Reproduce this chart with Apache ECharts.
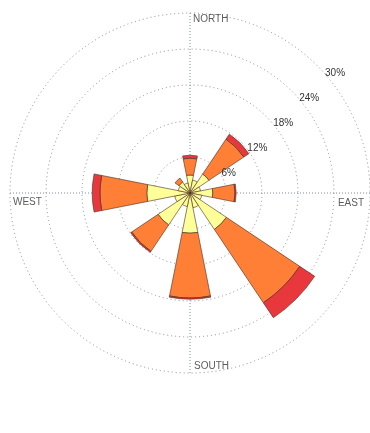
<!DOCTYPE html>
<html>
<head>
<meta charset="utf-8">
<script src="https://cdn.jsdelivr.net/npm/echarts@6/dist/echarts.min.js"></script>
<style>
html, body { margin: 0; padding: 0; background: #fff; }
#rose { width: 370px; height: 433px; }
</style>
</head>
<body>
<div id="rose"></div>
<script>
// 16 wind directions, clockwise from north
var directions = ['N', 'NNE', 'NE', 'ENE', 'E', 'ESE', 'SE', 'SSE', 'S', 'SSW', 'SW', 'WSW', 'W', 'WNW', 'NW', 'NNW'];
// frequency (%) per speed class
var lowSpeed  = [3.0, 2.2, 3.8, 1.8, 3.8, 2.0, 7.3, 2.5, 6.7, 2.3, 6.4, 2.6, 7.2, 2.0, 2.2, 1.7];
var midSpeed  = [2.8, 0, 7.0, 0, 3.7, 0, 14.7, 0, 10.8, 0, 5.3, 0, 7.8, 0, 0.8, 0];
var highSpeed = [0.5, 0, 1.0, 0, 0.2, 0, 3.0, 0, 0.2, 0, 0.2, 0, 1.3, 0, 0, 0];
var ringTicks = [6, 12, 18, 24, 30];
var compassNames = ['NORTH', 'EAST', 'SOUTH', 'WEST'];
var compassAngles = [0, 90, 180, 270];

window.onload = function () {
	var chart = echarts.init(document.getElementById('rose'));
	var center = [190, 193];
	var radius = 180;
	var maxPct = ringTicks[ringTicks.length - 1];

	function clean(arr) {
		return arr.map(function (v) { return v ? v : '-'; });
	}

	// label placement for the compass names (inside the outer ring)
	var compassLabel = {
		NORTH: { align: 'left', verticalAlign: 'top', offset: [3, 1] },
		EAST: { align: 'right', verticalAlign: 'top', offset: [-6, 5] },
		SOUTH: { align: 'left', verticalAlign: 'bottom', offset: [4, -2] },
		WEST: { align: 'left', verticalAlign: 'top', offset: [3, 4] }
	};
	var compassData = compassNames.map(function (name, i) {
		var l = compassLabel[name];
		return {
			name: name,
			value: [maxPct, compassAngles[i]],
			label: { align: l.align, verticalAlign: l.verticalAlign, offset: l.offset }
		};
	});

	var barBorder = { borderColor: '#4a2c1c', borderWidth: 0.6 };

	var option = {
		animation: false,
		backgroundColor: '#fff',
		polar: [
			{ center: center, radius: radius },
			{ center: center, radius: radius },
			{ center: center, radius: radius }
		],
		angleAxis: [{
			polarIndex: 0,
			type: 'category',
			data: directions,
			startAngle: 90 + 360 / directions.length / 2,
			clockwise: true,
			axisLine: { show: false },
			axisTick: { show: false },
			axisLabel: { show: false },
			splitLine: { show: false }
		}, {
			polarIndex: 1,
			type: 'value',
			min: 0,
			max: 360,
			interval: 90,
			startAngle: 90,
			clockwise: true,
			axisLine: { show: false },
			axisTick: { show: false },
			axisLabel: { show: false },
			splitLine: { show: true, lineStyle: { color: '#7d86bd', type: [1, 2], width: 1 } }
		}, {
			polarIndex: 2,
			type: 'value',
			min: 0,
			max: 360,
			startAngle: 44,
			show: false
		}],
		radiusAxis: [{
			polarIndex: 0,
			type: 'value',
			min: 0,
			max: maxPct,
			interval: 6,
			axisLine: { show: false },
			axisTick: { show: false },
			axisLabel: { show: false },
			splitLine: { show: true, lineStyle: { color: '#8e8e8e', type: [1, 3], width: 1 } }
		}, {
			polarIndex: 1,
			type: 'value',
			min: 0,
			max: maxPct,
			axisLine: { show: false },
			axisTick: { show: false },
			axisLabel: { show: false },
			splitLine: { show: false }
		}, {
			polarIndex: 2,
			type: 'value',
			min: 0,
			max: maxPct,
			interval: 6,
			z: 10,
			axisLine: { show: false },
			axisTick: { show: false },
			splitLine: { show: false },
			axisLabel: {
				show: true,
				showMinLabel: false,
				margin: -8,
				rotate: 0,
				align: 'left',
				verticalAlign: 'middle',
				color: '#333',
				fontSize: 10,
				fontFamily: 'Liberation Sans',
				formatter: function (v) { return ringTicks.indexOf(v) >= 0 ? v + '%' : ''; }
			}
		}],
		series: [{
			type: 'bar',
			coordinateSystem: 'polar',
			polarIndex: 0,
			stack: 'speed',
			barCategoryGap: '0%',
			data: clean(lowSpeed),
			itemStyle: Object.assign({ color: '#ffff99' }, barBorder)
		}, {
			type: 'bar',
			coordinateSystem: 'polar',
			polarIndex: 0,
			stack: 'speed',
			barCategoryGap: '0%',
			data: clean(midSpeed),
			itemStyle: Object.assign({ color: '#ff7f36' }, barBorder)
		}, {
			type: 'bar',
			coordinateSystem: 'polar',
			polarIndex: 0,
			stack: 'speed',
			barCategoryGap: '0%',
			data: clean(highSpeed),
			itemStyle: Object.assign({ color: '#e8383d' }, barBorder)
		}, {
			type: 'scatter',
			coordinateSystem: 'polar',
			polarIndex: 1,
			symbolSize: 0,
			silent: true,
			z: 10,
			label: {
				show: true,
				position: 'inside',
				color: '#333',
				fontSize: 10,
				fontFamily: 'Liberation Sans',
				formatter: function (p) { return p.name; }
			},
			data: compassData
		}]
	};
	chart.setOption(option);
};
</script>
</body>
</html>
